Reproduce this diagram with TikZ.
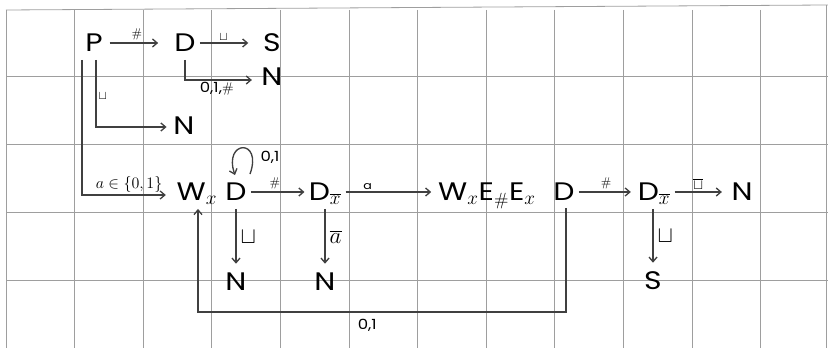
\documentclass[tikz,border=0pt]{standalone}
\usepackage{fontspec}
\newfontfamily\hand[FakeStretch=1.18]{Poppins}
\usetikzlibrary{arrows.meta,calc}
\begin{document}
\begin{tikzpicture}[x=0.75pt,y=-0.75pt,
  st/.style={font=\hand\fontsize{19}{22}\selectfont, inner xsep=3pt, inner ysep=2pt, text height=14pt, text depth=1pt},
  lab/.style={font=\fontsize{9.5}{11}\selectfont, inner sep=1.5pt},
  blab/.style={font=\fontsize{17}{19}\selectfont, inner sep=3pt},
  hlab/.style={font=\hand\fontsize{10.5}{12}\selectfont, inner sep=1.5pt},
  arr/.style={draw=black!75, line width=1pt, -{Straight Barb[length=3.5pt,width=6pt]}},
  gridl/.style={draw=black!38, line width=0.6pt}]
\useasboundingbox (0,0) rectangle (828,348);
% grid
\foreach \k in {0,...,11} \draw[gridl] ({6+68.6*\k},10) -- ({6+68.6*\k},348);
\draw[gridl] (826,5) -- (826,348);
\draw[gridl] (6,10) -- (828,5);
\foreach \yy in {76,144,212,280} \draw[gridl] (6,\yy) -- (828,\yy);
% nodes
\node[st] (P)  at (94,43)  {P};
\node[st] (D1) at (185,43) {D};
\node[st] (S1) at (272,43) {S};
\node[st] (N1) at (272,77) {N};
\node[st] (N2) at (184,126) {N};
\node[st] (Wx) at (197,192) {W$_x$};
\node[st] (D2) at (236,192) {D};
\node[st] (Dx1) at (325,192) {D$_{\overline{x}}$};
\node[st] (WEE) at (487,192) {W$_x$E$_{\#}$E$_x$};
\node[st] (D3) at (564,192) {D};
\node[st] (Dx2) at (654,192) {D$_{\overline{x}}$};
\node[st] (N3) at (742,192) {N};
\node[st] (N4) at (236,282) {N};
\node[st] (N5) at (325,282) {N};
\node[st] (S2) at (653,281) {S};
% top row
\draw[arr, shorten >=9pt] ([xshift=2pt]P.east) -- node[lab, above, pos=0.45]{$\#$} (D1.west);
\draw[arr, shorten >=8pt] (D1.east) -- node[lab, above, pos=0.4]{$\sqcup$} (S1.west);
\draw[arr, shorten >=4pt] ($(D1.south)+(0,4)$) |- node[hlab, below, pos=0.72]{0,1,$\#$} ($(N1.west)+(0,3)$);
\draw[arr, shorten >=2pt] ($(P.south)+(2,4)$) |- node[lab, right, pos=0.27]{$\sqcup$} ($(N2.west)+(0,1)$);
\draw[arr, shorten >=5pt] ($(P.south)+(-12,4)$) |- node[font=\fontsize{12.5}{14}\selectfont, inner sep=1.5pt, above, pos=0.76]{$a\in\{0,1\}$} ($(Wx.west)+(0,3)$);
% self loop
\draw[arr] ($(D2.north)+(14,-5)$) .. controls (263,138) and (223,140) .. ($(D2.north)+(-1,-4)$);
\node[hlab] (L1) at (270,157) {0,1};
% second row
\draw[arr] (D2.east) -- node[lab, above, pos=0.45]{$\#$} (Dx1.west);
\draw[arr, shorten >=2pt] (Dx1.east) -- node[hlab, above, pos=0.25, font=\hand\fontsize{8}{9}\selectfont]{a} (WEE.west);
\draw[arr, shorten >=2pt] (D3.east) -- node[lab, above, pos=0.5]{$\#$} (Dx2.west);
\draw[arr, shorten >=4pt] (Dx2.east) -- node[lab, above, pos=0.45, font=\fontsize{11}{12}\selectfont]{$\overline{\sqcup}$} (N3.west);
% downward
\draw[arr, shorten <=3pt, shorten >=4pt] (D2.south) -- node[blab, right]{$\sqcup$} (N4.north);
\draw[arr, shorten <=3pt, shorten >=4pt] (Dx1.south) -- node[blab, right]{$\overline{a}$} (N5.north);
\draw[arr, shorten <=3pt, shorten >=4pt] (S2.north |- Dx2.south) -- node[blab, right]{$\sqcup$} (S2.north);
% loop back
\draw[arr] ($(D3.south)+(2,3)$) -- ($(D3.south |- 0,312)+(2,0)$) -| node[hlab, below, pos=0.27, inner sep=5pt]{0,1} ($(Wx.south)+(1,4)$);
\end{tikzpicture}
\end{document}
